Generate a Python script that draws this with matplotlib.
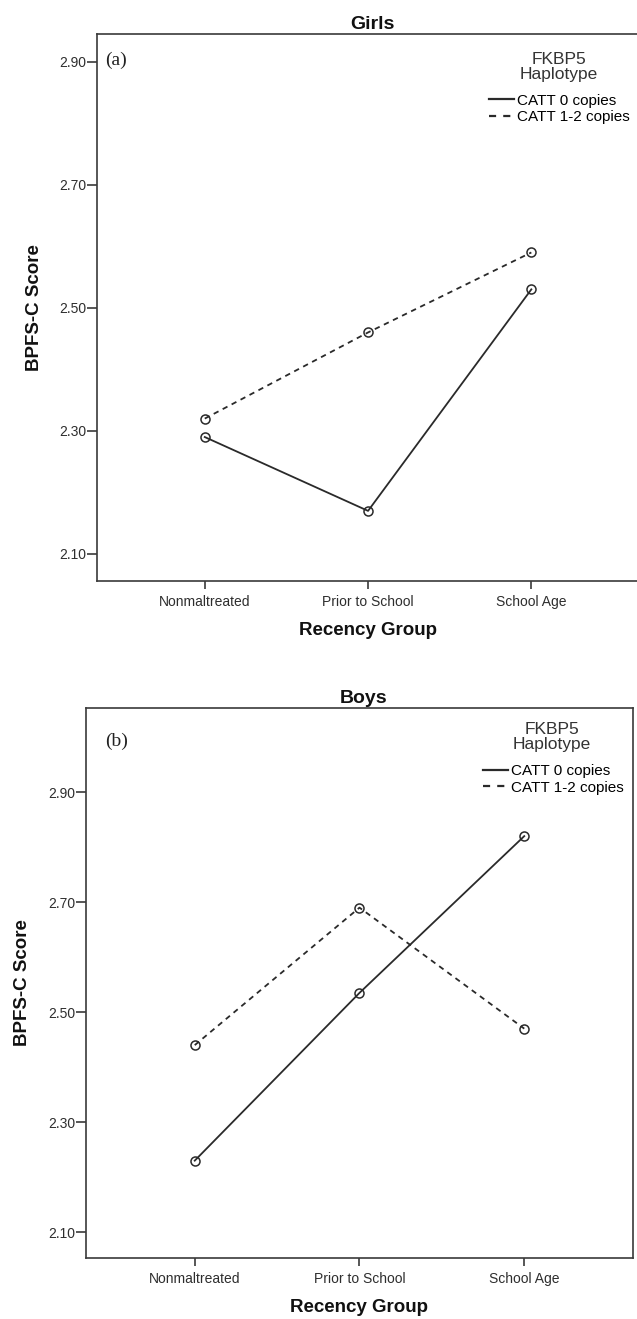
#!/usr/bin/env python3
"""
Interaction plots of BPFS-C score by recency group and FKBP5 haplotype,
one panel for girls and one for boys.
"""

import matplotlib
matplotlib.use('Agg')
import matplotlib.pyplot as plt
from matplotlib.lines import Line2D

plt.rcParams['font.family'] = ['Liberation Sans', 'DejaVu Sans']

# Recency groups on the x axis
recency_groups = ['Nonmaltreated', 'Prior to School', 'School Age']

# Mean BPFS-C score per group
girls_catt0 = [2.29, 2.17, 2.53]
girls_catt12 = [2.32, 2.46, 2.59]
boys_catt0 = [2.23, 2.535, 2.82]
boys_catt12 = [2.44, 2.69, 2.47]

series_labels = ['CATT 0 copies', 'CATT 1-2 copies']
y_ticks = [2.10, 2.30, 2.50, 2.70, 2.90]

INK = '#2a2a2a'
DASH = (0, (3, 2.6))


def draw_panel(ax, title, tag, catt0, catt12, ylim, legend_top, legend_x, tag_pos):
    """Draws one panel: two haplotype lines across the recency groups."""
    x = list(range(len(recency_groups)))
    common = dict(color=INK, lw=1.3, marker='o', markersize=6.5,
                  markerfacecolor='none', markeredgecolor=INK, markeredgewidth=1.1)
    ax.plot(x, catt0, linestyle='-', **common)
    ax.plot(x, catt12, linestyle=DASH, **common)

    ax.set_xlim(-0.66, 2.66)
    ax.set_ylim(*ylim)
    ax.set_xticks(x)
    ax.set_xticklabels(recency_groups)
    ax.set_yticks(y_ticks)
    ax.set_yticklabels([f'{v:.2f}' for v in y_ticks])

    for side in ax.spines.values():
        side.set_color('#3a3a3a')
        side.set_linewidth(1.2)
    ax.tick_params(axis='y', length=7, width=1.2, pad=1, labelsize=10,
                   color='#3a3a3a', labelcolor='#2e2e2e')
    ax.tick_params(axis='x', length=6, width=1.2, pad=4, labelsize=10,
                   color='#3a3a3a', labelcolor='#2e2e2e')

    ax.set_title(title, fontsize=14, fontweight='bold', pad=3.5, x=0.508, color='#111111')
    ax.set_xlabel('Recency Group', fontsize=13.5, fontweight='bold', color='#111111')
    ax.xaxis.set_label_coords(0.5, -0.075)
    ax.set_ylabel('BPFS-C Score', fontsize=13.5, fontweight='bold', color='#111111')
    ax.yaxis.set_label_coords(-0.10, 0.5)

    ax.text(tag_pos[0], tag_pos[1], tag, transform=ax.transAxes, family='Liberation Serif',
            fontsize=14, ha='left', va='center', color='#222222')

    # legend: title block plus line-only handles
    ax.text(0.852, legend_top, 'FKBP5\nHaplotype', transform=ax.transAxes,
            ha='center', va='top', fontsize=12.5, linespacing=1.05, color='#333333')
    handles = [Line2D([], [], color=INK, lw=1.6, linestyle='-'),
               Line2D([], [], color=INK, lw=1.6, linestyle=(0, (3.2, 3.2)))]
    ax.legend(handles, series_labels, loc='upper left',
              bbox_to_anchor=(legend_x, legend_top - 0.077),
              frameon=False, fontsize=11, handlelength=1.65, handletextpad=0.2,
              labelspacing=0.18, borderpad=0, borderaxespad=0)


def main():
    fig = plt.figure(figsize=(6.37, 13.19), dpi=100)
    ax_girls = fig.add_axes([0.1523, 0.5595, 0.851, 0.4147])
    ax_boys = fig.add_axes([0.135, 0.04625, 0.8587, 0.417])

    draw_panel(ax_girls, 'Girls', '(a)', girls_catt0, girls_catt12,
               ylim=(2.056, 2.945), legend_top=0.968, legend_x=0.723,
               tag_pos=(0.015, 0.951))
    draw_panel(ax_boys, 'Boys', '(b)', boys_catt0, boys_catt12,
               ylim=(2.053, 3.053), legend_top=0.975, legend_x=0.726,
               tag_pos=(0.035, 0.94))

    fig.savefig('out.png', dpi=100)


if __name__ == '__main__':
    main()
